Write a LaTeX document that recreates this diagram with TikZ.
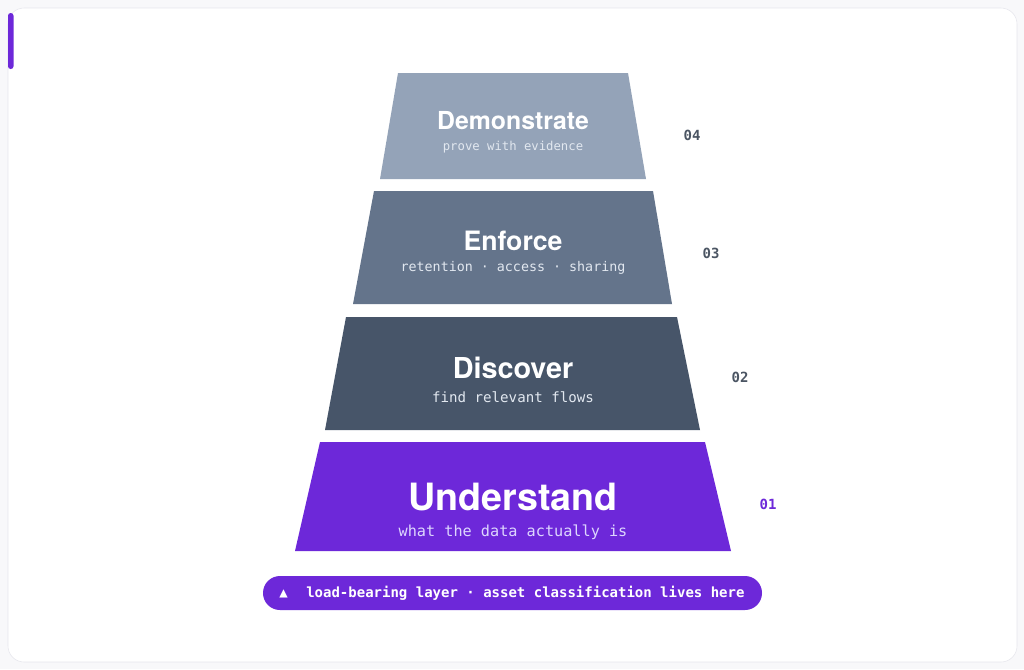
\documentclass[tikz,border=0pt]{standalone}
\usepackage{fontspec}
\setmainfont{TeX Gyre Heros}
\newfontfamily\codefont{DejaVu Sans Mono}

\definecolor{pagebg}{HTML}{F8F8FA}
\definecolor{cardline}{HTML}{E6E6EC}
\definecolor{violet}{HTML}{6D28D9}
\definecolor{slatelight}{HTML}{94A3B8}
\definecolor{slatemid}{HTML}{64748B}
\definecolor{slatedark}{HTML}{475569}
\definecolor{ranktext}{HTML}{4B5563}
\definecolor{subslate}{HTML}{E2E8F0}
\definecolor{subviolet}{HTML}{DDD6FE}

\begin{document}
\begin{tikzpicture}[x=0.75pt,y=-0.75pt,
    title/.style={text=white, inner sep=0pt, anchor=base, font=\fontsize{#1}{#1}\selectfont\bfseries},
    sub/.style={inner sep=0pt, anchor=base, font=\codefont\fontsize{#1}{#1}\selectfont},
    rank/.style={inner sep=0pt, anchor=base, font=\codefont\bfseries\fontsize{10.5}{10.5}\selectfont}]
    % page and card
    \fill[pagebg] (0,0) rectangle (1024,669);
    \useasboundingbox (0,0) rectangle (1024,669);
    \draw[cardline, fill=white, rounded corners=12pt] (8,8) rectangle (1017,662);
    \fill[violet, rounded corners=2pt] (8,13) rectangle (13.5,69);

    % top layer
    \fill[slatelight] (398,73) -- (628,73) -- (646,179) -- (380,179) -- cycle;
    \node[title=18.6] (demo) at (513,129) {Demonstrate};
    \node[sub=9.2, text=subslate] (demosub) at (513,150) {prove with evidence};
    \node[rank, text=ranktext] (r4) at (692,140) {04};

    % third layer
    \fill[slatemid] (374,191) -- (653,191) -- (672,304) -- (353,304) -- cycle;
    \node[title=20] (enforce) at (513,250) {Enforce};
    \node[sub=10, text=subslate] (enforcesub) at (513,271) {retention · access · sharing};
    \node[rank, text=ranktext] (r3) at (711,258) {03};

    % second layer
    \fill[slatedark] (346,317) -- (677,317) -- (700,430) -- (325,430) -- cycle;
    \node[title=21.6] (discover) at (513,378) {Discover};
    \node[sub=10.6, text=subslate] (discoversub) at (513,402) {find relevant flows};
    \node[rank, text=ranktext] (r2) at (740,382) {02};

    % base layer
    \fill[violet] (320,442) -- (705,442) -- (731,551) -- (295,551) -- cycle;
    \node[title=28.2] (understand) at (513,510) {Understand};
    \node[sub=11.4, text=subviolet] (understandsub) at (513,536) {what the data actually is};
    \node[rank, text=violet] (r1) at (768,509) {01};

    % note pill
    \fill[violet, rounded corners=12.7pt] (263,576) rectangle (762,610);
    \node[inner sep=0pt, anchor=base west, text=white, font=\codefont\bfseries\fontsize{10.5}{10.5}\selectfont] (mark) at (279,597) {▲};
    \node[inner sep=0pt, anchor=base west, text=white, font=\codefont\bfseries\fontsize{10.5}{10.5}\selectfont] (note) at (306,597) {load-bearing layer · asset classification lives here};
\end{tikzpicture}
\end{document}
